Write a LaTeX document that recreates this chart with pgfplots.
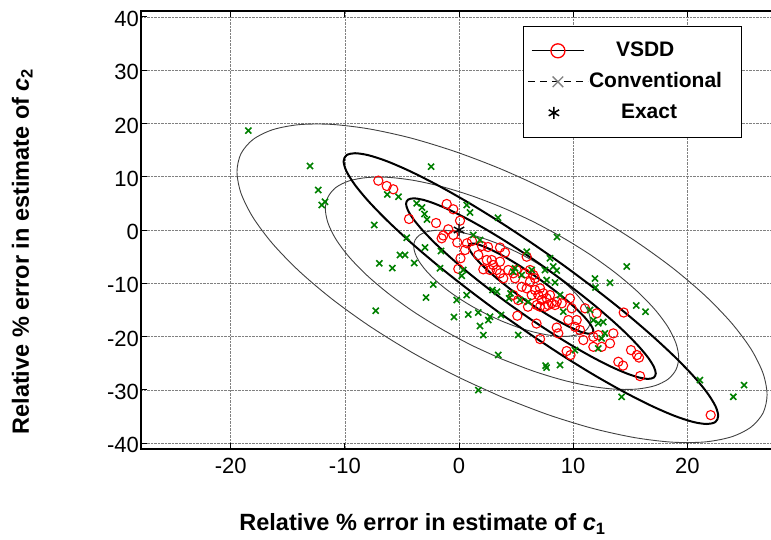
\documentclass[border=0pt]{standalone}
\usepackage{fontspec}
\setmainfont{Liberation Sans}
\usepackage{pgfplots}
\pgfplotsset{compat=1.18}
\definecolor{mgreen}{RGB}{0,128,0}
\begin{document}
\begin{tikzpicture}
\begin{axis}[
  at={(141pt,-449pt)}, anchor=south west,
  scale only axis, width=637.6pt, height=438pt,
  xmin=-27.86, xmax=28, ymin=-41.1, ymax=41.1,
  xtick={-20,-10,0,10,20}, ytick={-40,-30,-20,-10,0,10,20,30,40},
  grid=major, grid style={densely dotted, black!50, line width=0.6pt},
  tick align=inside, major tick length=6pt,
  tick style={black, line width=0.8pt},
  axis line style={line width=1.2pt},
  tick label style={font=\fontsize{22}{26}\selectfont},
  /pgf/number format/assume math mode=true,
  xticklabel style={inner sep=0pt, anchor=north, yshift=-9pt},
  yticklabel style={inner sep=0pt, anchor=east, xshift=-2pt, yshift=-2pt},
  xlabel={\bfseries Relative \% error in estimate of \textit{c}\textsubscript{1}},
  ylabel={\bfseries Relative \% error in estimate of \textit{c}\textsubscript{2}},
  label style={font=\fontsize{23.5}{27}\selectfont},
  xlabel style={at={(rel axis cs:0.4415,-0.1872)}, anchor=base},
  ylabel style={at={(rel axis cs:-0.1757,0.451)}, anchor=base},
  legend cell align=left,
  legend style={at={(rel axis cs:0.5987,0.9664)}, anchor=north west,
    draw=black, line width=1.2pt, fill=white,
    font=\fontsize{21}{25}\selectfont\bfseries,
    inner xsep=4pt, inner ysep=13pt, row sep=8pt,
    nodes={inner xsep=0.5pt, inner ysep=2pt, text height=15pt, text depth=4pt}},
]
% VSDD estimates
\addplot[forget plot, only marks, mark=o, mark size=4.6pt, red, line width=1.1pt] coordinates {
(-7.07,9.26) (-6.33,8.26) (-5.76,7.64) (-4.38,2.07) (-2.01,1.31) (-1.08,4.88) (-0.50,3.89) (0.09,1.75) (-0.94,0.13) (-1.52,-1.56) (-1.38,-1.03) (-0.50,-0.94) (-0.15,-2.35) (0.70,-2.50) (1.14,-2.07) (0.53,-3.76) (0.13,-5.31) (-0.06,-7.29) (1.69,-4.69) (2.01,-3.00) (2.54,-3.19) (3.59,-3.29) (4.03,-4.23) (2.43,-5.63) (2.86,-5.63) (3.00,-6.57) (2.72,-7.51) (2.13,-7.38) (3.30,-7.51) (3.59,-8.13) (3.59,-5.95) (4.32,-7.51) (4.76,-8.13) (4.91,-9.07) (3.88,-9.07) (5.05,-7.51) (5.78,-8.13) (6.22,-7.51) (6.51,-8.45) (5.93,-5.01) (6.66,-9.07) (6.22,-9.71) (5.49,-10.65) (5.93,-10.95) (4.76,-12.21) (5.19,-13.15) (6.37,-12.21) (6.66,-11.27) (7.10,-10.95) (6.95,-12.21) (7.39,-11.89) (7.24,-13.15) (7.68,-12.83) (7.97,-12.21) (8.12,-13.77) (7.82,-14.08) (7.53,-14.40) (7.10,-14.40) (6.81,-14.08) (5.11,-16.09) (6.79,-17.56) (7.10,-20.47) (8.56,-18.31) (9.00,-13.77) (9.72,-12.83) (9.58,-16.90) (10.31,-16.90) (9.87,-14.70) (11.04,-14.70) (12.06,-15.64) (10.16,-18.16) (10.60,-18.78) (8.70,-19.40) (11.77,-20.04) (12.20,-19.72) (10.89,-20.66) (11.77,-21.92) (12.50,-21.92) (13.23,-21.28) (13.52,-19.40) (9.43,-22.72) (9.77,-23.47) (14.43,-15.49) (15.07,-22.54) (15.59,-23.47) (15.77,-23.94) (13.96,-24.73) (14.37,-25.45) (15.86,-27.42) (22.05,-34.74) (8.41,-14.08) (6.04,-14.40) (8.56,-13.46)
};
% Conventional estimates
\addplot[forget plot, only marks, mark=x, mark size=4.3pt, mgreen, line width=1.6pt] coordinates {
(-18.46,18.65) (-13.05,12.02) (-12.33,7.51) (-11.74,5.31) (-12.03,4.69) (-7.42,0.94) (-6.28,6.67) (-5.30,6.25) (-2.45,11.89) (-3.71,5.01) (-3.24,4.23) (-3.02,3.00) (-2.80,1.97) (-4.58,-1.46) (-2.98,-3.29) (-1.58,-3.94) (-5.17,-4.69) (-4.73,-4.69) (-6.98,-6.25) (-5.84,-7.14) (-3.92,-6.20) (-1.66,-7.19) (-2.25,-10.23) (-2.89,-12.68) (-7.30,-15.15) (-0.44,-16.34) (-0.20,-13.15) (0.67,4.69) (0.96,3.29) (3.42,2.31) (1.25,-0.94) (1.84,-1.88) (0.38,-7.51) (0.24,-8.60) (0.67,-12.21) (0.81,-15.87) (1.69,-15.49) (1.84,-18.03) (2.72,-16.28) (2.57,-16.90) (3.68,-15.96) (2.93,-11.27) (3.33,-11.59) (4.51,-11.89) (4.38,-12.83) (5.93,-4.08) (6.37,-7.51) (4.91,-7.19) (7.97,-5.31) (8.59,-1.31) (8.26,-6.85) (8.56,-7.61) (7.68,-9.39) (8.41,-9.86) (14.69,-6.85) (11.91,-9.11) (11.96,-10.80) (13.23,-9.90) (7.53,-7.51) (8.85,-12.21) (4.76,-7.83) (5.49,-8.45) (5.34,-13.15) (2.13,-19.72) (5.19,-19.72) (11.48,-15.02) (12.64,-17.28) (12.79,-19.40) (9.14,-15.34) (11.77,-16.90) (12.20,-17.52) (15.53,-14.18) (16.34,-15.34) (12.50,-20.34) (12.20,-22.22) (10.16,-22.54) (7.58,-25.45) (7.67,-25.82) (8.85,-25.35) (21.11,-28.17) (3.44,-23.47) (1.69,-30.05) (14.25,-31.31) (24.03,-31.31) (24.97,-29.11) (6.07,-13.46)
};
% Exact
\addplot[forget plot, only marks, mark=asterisk, mark size=6pt, black, line width=1.4pt] coordinates {(0,0)};
% Conventional contours (thin)
\addplot[forget plot, smooth, black!75, line width=0.9pt] coordinates {
(3.77,-17.12) (2.43,-15.80) (1.12,-14.30) (-0.10,-12.68) (-1.21,-10.97) (-2.16,-9.23) (-2.93,-7.52) (-3.50,-5.88) (-3.85,-4.36) (-3.97,-3.02) (-3.85,-1.89) (-3.50,-1.01) (-2.93,-0.40) (-2.16,-0.08) (-1.21,-0.06) (-0.10,-0.35) (1.12,-0.92) (2.43,-1.78) (3.77,-2.88) (5.11,-4.20) (6.42,-5.70) (7.64,-7.33) (8.75,-9.03) (9.70,-10.77) (10.47,-12.49) (11.04,-14.12) (11.39,-15.64) (11.51,-16.98) (11.39,-18.11) (11.04,-18.99) (10.47,-19.60) (9.70,-19.92) (8.75,-19.94) (7.64,-19.65) (6.42,-19.08) (5.11,-18.22) (3.77,-17.12)
};
\addplot[forget plot, smooth, black!75, line width=0.9pt] coordinates {
(3.77,-24.24) (1.08,-21.60) (-1.52,-18.60) (-3.97,-15.35) (-6.18,-11.93) (-8.09,-8.46) (-9.64,-5.03) (-10.78,-1.75) (-11.47,1.27) (-11.71,3.96) (-11.47,6.22) (-10.78,7.99) (-9.64,9.21) (-8.09,9.84) (-6.18,9.88) (-3.97,9.31) (-1.52,8.15) (1.08,6.44) (3.77,4.24) (6.46,1.60) (9.06,-1.40) (11.51,-4.65) (13.72,-8.07) (15.63,-11.54) (17.18,-14.97) (18.32,-18.25) (19.01,-21.27) (19.25,-23.96) (19.01,-26.22) (18.32,-27.99) (17.18,-29.21) (15.63,-29.84) (13.72,-29.88) (11.51,-29.31) (9.06,-28.15) (6.46,-26.44) (3.77,-24.24)
};
\addplot[forget plot, smooth, black!75, line width=0.9pt] coordinates {
(3.77,-31.36) (-0.26,-27.40) (-4.17,-22.91) (-7.84,-18.03) (-11.16,-12.90) (-14.02,-7.69) (-16.34,-2.55) (-18.05,2.37) (-19.10,6.91) (-19.45,10.94) (-19.10,14.33) (-18.05,16.98) (-16.34,18.81) (-14.02,19.77) (-11.16,19.82) (-7.84,18.96) (-4.17,17.23) (-0.26,14.66) (3.77,11.36) (7.80,7.40) (11.71,2.91) (15.38,-1.98) (18.70,-7.10) (21.56,-12.31) (23.88,-17.46) (25.59,-22.37) (26.64,-26.91) (26.99,-30.94) (26.64,-34.33) (25.59,-36.98) (23.88,-38.81) (21.56,-39.77) (18.70,-39.82) (15.38,-38.96) (11.71,-37.23) (7.80,-34.66) (3.77,-31.36)
};
% VSDD contours (thick)
\addplot[forget plot, smooth, black, line width=2pt] coordinates {
(6.30,-13.89) (5.35,-12.46) (4.43,-10.99) (3.57,-9.52) (2.78,-8.10) (2.11,-6.76) (1.56,-5.55) (1.16,-4.51) (0.91,-3.66) (0.83,-3.04) (0.91,-2.66) (1.16,-2.53) (1.56,-2.66) (2.11,-3.04) (2.78,-3.67) (3.57,-4.52) (4.43,-5.56) (5.35,-6.77) (6.30,-8.11) (7.25,-9.54) (8.17,-11.01) (9.04,-12.48) (9.82,-13.91) (10.49,-15.24) (11.04,-16.45) (11.44,-17.49) (11.69,-18.34) (11.77,-18.96) (11.69,-19.34) (11.44,-19.47) (11.04,-19.34) (10.49,-18.96) (9.82,-18.33) (9.04,-17.48) (8.17,-16.44) (7.25,-15.23) (6.30,-13.89)
};
\addplot[forget plot, smooth, black, line width=2pt] coordinates {
(6.30,-16.78) (4.40,-13.92) (2.56,-10.98) (0.83,-8.04) (-0.73,-5.19) (-2.08,-2.52) (-3.17,-0.10) (-3.98,1.99) (-4.47,3.68) (-4.64,4.92) (-4.47,5.68) (-3.98,5.94) (-3.17,5.68) (-2.08,4.91) (-0.73,3.66) (0.83,1.96) (2.56,-0.13) (4.40,-2.55) (6.30,-5.22) (8.20,-8.08) (10.04,-11.02) (11.77,-13.96) (13.33,-16.81) (14.68,-19.48) (15.77,-21.90) (16.58,-23.99) (17.07,-25.68) (17.24,-26.92) (17.07,-27.68) (16.58,-27.94) (15.77,-27.68) (14.68,-26.91) (13.33,-25.66) (11.77,-23.96) (10.04,-21.87) (8.20,-19.45) (6.30,-16.78)
};
\addplot[forget plot, smooth, black, line width=2pt] coordinates {
(6.30,-19.66) (3.45,-15.39) (0.69,-10.97) (-1.91,-6.56) (-4.25,-2.29) (-6.27,1.73) (-7.91,5.35) (-9.12,8.48) (-9.86,11.02) (-10.11,12.89) (-9.86,14.03) (-9.12,14.41) (-7.91,14.02) (-6.27,12.87) (-4.25,10.99) (-1.91,8.45) (0.69,5.31) (3.45,1.68) (6.30,-2.34) (9.15,-6.61) (11.91,-11.03) (14.51,-15.44) (16.85,-19.72) (18.87,-23.73) (20.51,-27.35) (21.72,-30.48) (22.46,-33.02) (22.71,-34.89) (22.46,-36.03) (21.72,-36.41) (20.51,-36.02) (18.87,-34.87) (16.85,-32.99) (14.51,-30.45) (11.91,-27.31) (9.15,-23.68) (6.30,-19.66)
};
% Legend
\addlegendimage{legend image code/.code={\draw[black, line width=1.3pt, mark=o, mark repeat=2, mark phase=2, mark options={red, line width=1.3pt, mark size=7pt}] plot coordinates {(3.7pt,0pt) (30pt,0pt) (56.3pt,0pt)};}}
\addlegendentry{\hspace*{27pt}VSDD}
\addlegendimage{legend image code/.code={\draw[black, line width=1.2pt, dash pattern=on 7pt off 5pt, mark=x, mark repeat=2, mark phase=2, mark options={solid, gray, line width=1.4pt, mark size=7.5pt}] plot coordinates {(0pt,0pt) (30pt,0pt) (60pt,0pt)};}}
\addlegendentry{Conventional\hspace*{15pt}}
\addlegendimage{legend image code/.code={\draw[black, line width=1.5pt] plot[mark=asterisk, only marks, mark size=6pt] coordinates {(26pt,0pt)};}}
\addlegendentry{\hspace*{32pt}Exact}
\end{axis}
\pgfresetboundingbox
\useasboundingbox (0pt,0pt) rectangle (771pt,-540pt);
\end{tikzpicture}
\end{document}
